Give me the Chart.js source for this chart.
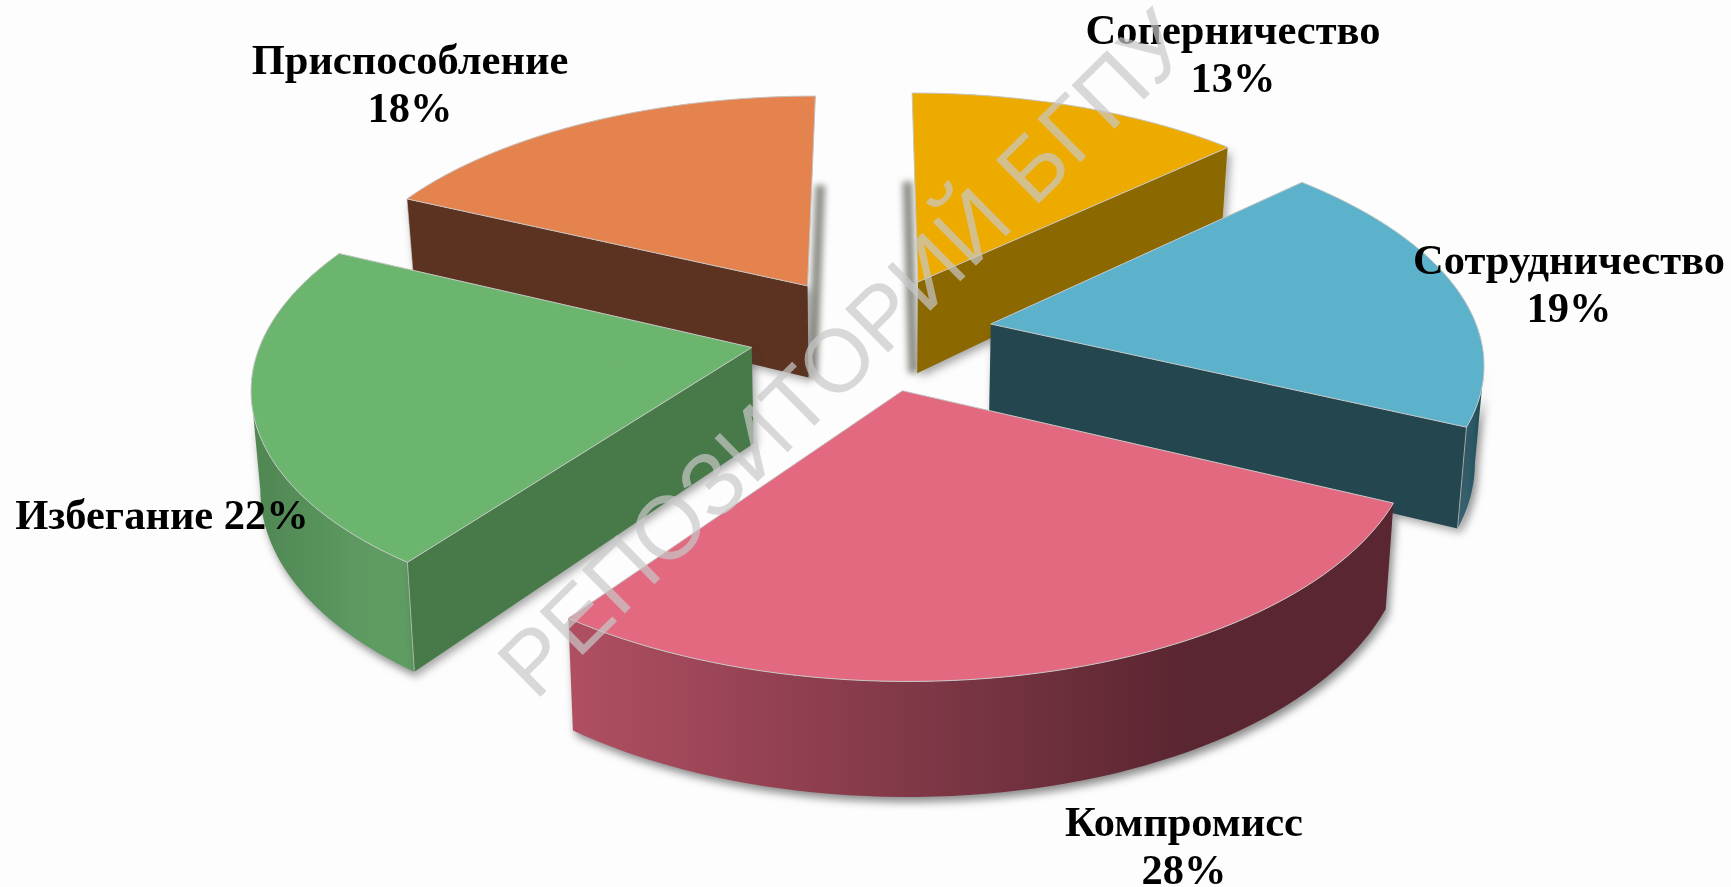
<!DOCTYPE html>
<html>
<head>
<meta charset="utf-8">
<title>Стратегии поведения в конфликте</title>
<script src="https://cdn.jsdelivr.net/npm/chart.js@4"></script>
<style>
  html, body { margin: 0; padding: 0; background: #fdfdfd; }
  #chart { display: block; }
</style>
</head>
<body>
<canvas id="chart" width="1731" height="887"></canvas>
<script>
// Data
const categories = ['Соперничество', 'Сотрудничество', 'Компромисс', 'Избегание', 'Приспособление'];
const shares = [13, 19, 28, 22, 18];

// Styles
const topColors = ['#edab00', '#5db2cb', '#e2697f', '#6cb56e', '#e5834f'];
const radialWallColors = ['#8b6900', '#23464f', '#5a2631', '#477a48', '#5b3320'];
const outerWallStops = [
    ['#8b6900', '#8b6900'],
    ['#3d7486', '#24505c'],
    ['#b04f62', '#5a2631'],
    ['#4f8652', '#5f9c62'],
    ['#5b3320', '#5b3320']
];
const labelSeparators = ['\n', '\n', '\n', ' ', '\n'];
const labelCenters = [[1233, 33], [1569, 263], [1184, 825], [162, 518], [410, 63]];

// Camera: projects the flat pie onto the slanted plane of the picture
const camera = { cx: 871, cy: 333, xx: 488, xy: 0, yy: -230, tilt: 0.145, depth: 95, depthFall: 1.2, baseShrink: 0.985 };
const explode = 0.25;
const wedgesPerSlice = 12;
const labelFont = 'bold 42.5px "Liberation Serif"';
const watermark = 'РЕПОЗИТОРИЙ БГПУ';

// Project plane coordinates (unit radius, v pointing away) to the screen
function project(u, v) {
    const w = 1 + camera.tilt * v;
    return {
        x: camera.cx + (u * camera.xx) / w,
        y: camera.cy + (u * camera.xy + v * camera.yy) / w,
        w: w
    };
}

function wallDepth(w) {
    return camera.depth * (1 - camera.depthFall * (w - 1));
}

function lowered(p) {
    return {
        x: camera.cx + (p.x - camera.cx) * camera.baseShrink,
        y: p.y + wallDepth(p.w)
    };
}

// Affine map taking a narrow wedge of the arc onto its projected apex and corners
function wedgeMatrix(arc, apex, a0, p0, a1, p1) {
    const r = arc.outerRadius;
    const ax = Math.cos(a0) * r, ay = Math.sin(a0) * r;
    const bx = Math.cos(a1) * r, by = Math.sin(a1) * r;
    const det = ax * by - ay * bx;
    const m = {
        a: ((p0.x - apex.x) * by - (p1.x - apex.x) * ay) / det,
        b: ((p0.y - apex.y) * by - (p1.y - apex.y) * ay) / det,
        c: ((p1.x - apex.x) * ax - (p0.x - apex.x) * bx) / det,
        d: ((p1.y - apex.y) * ax - (p0.y - apex.y) * bx) / det
    };
    m.e = apex.x - m.a * arc.x - m.c * arc.y;
    m.f = apex.y - m.b * arc.x - m.d * arc.y;
    return m;
}

function sliceView(arc) {
    const mid = (arc.startAngle + arc.endAngle) / 2;
    const du = Math.cos(mid) * explode;
    const dv = -Math.sin(mid) * explode;
    const at = (a) => project(Math.cos(a) + du, -Math.sin(a) + dv);
    const apex = project(du, dv);
    const span = arc.endAngle - arc.startAngle;

    const rim = [];
    const steps = 60;
    for (let i = 0; i <= steps; i++) {
        rim.push(at(arc.startAngle + span * i / steps));
    }

    const wedges = [];
    for (let k = 0; k < wedgesPerSlice; k++) {
        const a0 = arc.startAngle + span * k / wedgesPerSlice;
        const a1 = arc.startAngle + span * (k + 1) / wedgesPerSlice;
        wedges.push({ a0: a0, a1: a1, m: wedgeMatrix(arc, apex, a0, at(a0), a1, at(a1)) });
    }
    return { apex: apex, first: rim[0], last: rim[steps], rim: rim, wedges: wedges };
}

function tracePolygon(ctx, pts) {
    ctx.beginPath();
    pts.forEach((p, i) => (i ? ctx.lineTo(p.x, p.y) : ctx.moveTo(p.x, p.y)));
}

function fillPolygon(ctx, pts, fill) {
    tracePolygon(ctx, pts);
    ctx.closePath();
    ctx.fillStyle = fill;
    ctx.fill();
}

function strokeLine(ctx, a, b, color, width) {
    tracePolygon(ctx, [a, b]);
    ctx.strokeStyle = color;
    ctx.lineWidth = width;
    ctx.stroke();
}

function drawOuterWall(ctx, view, index) {
    // Keep the part of the rim that faces the viewer (clockwise, running right to left)
    const front = view.rim.filter((p, i) => {
        const next = view.rim[i + 1] || p;
        const prev = view.rim[i - 1] || p;
        return next.x - p.x < 0 || p.x - prev.x < 0;
    });
    if (front.length < 2) return;

    const outer = front.concat(front.map(lowered).reverse());
    const xs = outer.map((p) => p.x);
    const grad = ctx.createLinearGradient(Math.min(...xs), 0, Math.max(...xs), 0);
    grad.addColorStop(0, outerWallStops[index][0]);
    grad.addColorStop(0.75, outerWallStops[index][1]);
    grad.addColorStop(1, outerWallStops[index][1]);

    ctx.save();
    ctx.shadowColor = 'rgba(60,60,60,0.6)';
    ctx.shadowBlur = 9;
    ctx.shadowOffsetX = 3;
    ctx.shadowOffsetY = 5;
    fillPolygon(ctx, outer, grad);
    ctx.restore();
}

function drawRadialWalls(ctx, view, index) {
    const walls = [[view.apex, view.first, view.first], [view.last, view.apex, view.last]];
    walls.forEach(([a, b, corner]) => {
        const low = [lowered(a), lowered(b)];
        if (Math.abs(b.x - a.x) < 20) {
            // Edge seen almost end on: only its blurred shadow shows beside the slice
            const side = view.apex.x < view.rim[30].x ? -4 : 4;
            const upper = low[0].y < low[1].y ? low[0] : low[1];
            const lower = low[0].y < low[1].y ? low[1] : low[0];
            ctx.save();
            ctx.filter = 'blur(3px)';
            strokeLine(ctx, { x: upper.x + side, y: upper.y + 14 }, { x: lower.x + side, y: lower.y }, 'rgba(70,70,60,0.6)', 10);
            ctx.restore();
            return;
        }
        if (b.x - a.x > 0) return;
        ctx.save();
        ctx.shadowColor = 'rgba(60,60,60,0.45)';
        ctx.shadowBlur = 8;
        ctx.shadowOffsetX = 3;
        ctx.shadowOffsetY = 4;
        fillPolygon(ctx, [a, b, low[1], low[0]], radialWallColors[index]);
        ctx.restore();
        strokeLine(ctx, corner, lowered(corner), 'rgba(215,215,215,0.6)', 1);
    });
}

// The arc element itself paints the top face, one narrow wedge at a time
function drawTop(ctx, arc, view) {
    const outline = [view.apex].concat(view.rim);
    fillPolygon(ctx, outline, arc.options.backgroundColor); // hides the seams near the apex

    const saved = { s: arc.startAngle, e: arc.endAngle, c: arc.circumference };
    view.wedges.forEach((wedge, k) => {
        const overlap = k < view.wedges.length - 1 ? 0.01 : 0;
        arc.startAngle = wedge.a0;
        arc.endAngle = wedge.a1 + overlap;
        arc.circumference = arc.endAngle - arc.startAngle;
        ctx.save();
        ctx.transform(wedge.m.a, wedge.m.b, wedge.m.c, wedge.m.d, wedge.m.e, wedge.m.f);
        arc.draw(ctx);
        ctx.restore();
    });
    arc.startAngle = saved.s;
    arc.endAngle = saved.e;
    arc.circumference = saved.c;

    tracePolygon(ctx, outline);
    ctx.closePath();
    ctx.strokeStyle = '#c6c6c6';
    ctx.lineWidth = 1;
    ctx.stroke();
}

const pie3d = {
    id: 'pie3d',
    beforeDatasetsDraw(chart) {
        const ctx = chart.ctx;
        const arcs = chart.getDatasetMeta(0).data;
        const views = arcs.map(sliceView);
        const order = arcs.map((a, i) => i).sort((i, j) => views[i].apex.y - views[j].apex.y);

        order.forEach((i) => {
            drawOuterWall(ctx, views[i], i);
            drawRadialWalls(ctx, views[i], i);
            drawTop(ctx, arcs[i], views[i]);
        });
        return false;
    },
    afterDraw(chart) {
        const ctx = chart.ctx;
        ctx.save();
        ctx.fillStyle = '#000';
        ctx.font = labelFont;
        ctx.textAlign = 'center';
        ctx.textBaseline = 'middle';
        categories.forEach((name, i) => {
            const lines = (name + labelSeparators[i] + shares[i] + '%').split('\n');
            lines.forEach((line, k) => {
                ctx.fillText(line, labelCenters[i][0], labelCenters[i][1] + k * 48);
            });
        });
        ctx.restore();

        ctx.save();
        ctx.translate(848, 358);
        ctx.rotate(-44.7 * Math.PI / 180);
        ctx.fillStyle = 'rgba(200,200,200,0.7)';
        ctx.font = '89px "Liberation Sans"';
        ctx.textAlign = 'center';
        ctx.textBaseline = 'middle';
        ctx.fillText(watermark, 0, 0);
        ctx.restore();
    }
};

new Chart(document.getElementById('chart').getContext('2d'), {
    type: 'pie',
    data: {
        labels: categories,
        datasets: [{
            data: shares,
            backgroundColor: topColors,
            borderWidth: 0
        }]
    },
    options: {
        responsive: false,
        animation: false,
        layout: { padding: 0 },
        plugins: {
            legend: { display: false },
            tooltip: { enabled: false }
        }
    },
    plugins: [pie3d]
});
</script>
</body>
</html>
